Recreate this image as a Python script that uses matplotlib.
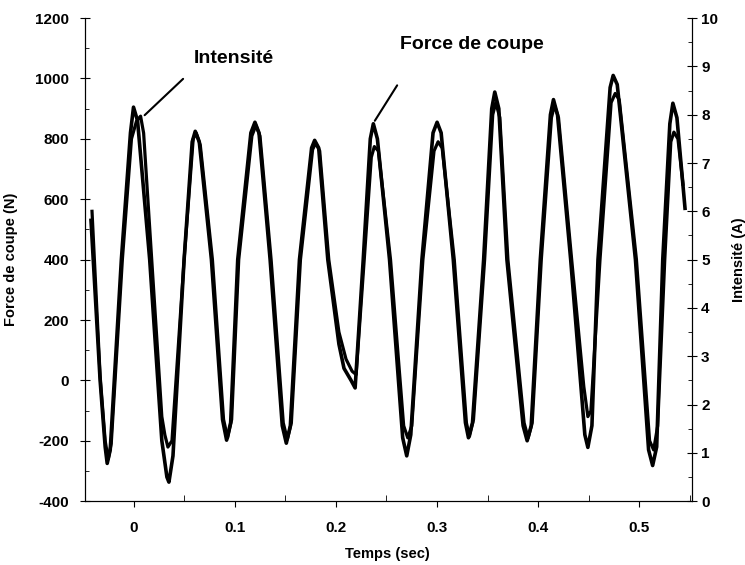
import matplotlib
matplotlib.use("Agg")
import matplotlib.pyplot as plt
from matplotlib.ticker import MultipleLocator

plt.rcParams['font.family'] = ['Liberation Sans', 'DejaVu Sans']
plt.rcParams['font.weight'] = 'bold'
plt.rcParams['axes.unicode_minus'] = False

# Force de coupe (N)
t_force = [-0.042, -0.033, -0.028, -0.026, -0.023, -0.012, -0.003, 0.000, 0.004, 0.016,
           0.028, 0.033, 0.035, 0.039, 0.050, 0.058, 0.061, 0.065, 0.077, 0.088,
           0.092, 0.096, 0.103, 0.116, 0.120, 0.124, 0.135, 0.147, 0.151, 0.155,
           0.164, 0.176, 0.179, 0.183, 0.192, 0.203, 0.208, 0.215, 0.219, 0.227,
           0.234, 0.237, 0.241, 0.253, 0.266, 0.270, 0.274, 0.285, 0.296, 0.300,
           0.304, 0.316, 0.328, 0.331, 0.335, 0.346, 0.354, 0.357, 0.361, 0.369,
           0.385, 0.389, 0.393, 0.402, 0.412, 0.415, 0.419, 0.432, 0.446, 0.449,
           0.453, 0.459, 0.471, 0.474, 0.478, 0.496, 0.509, 0.513, 0.517, 0.523,
           0.530, 0.533, 0.537, 0.545]
force = [530, 0, -220, -275, -230, 400, 820, 905, 860, 400,
         -200, -320, -337, -250, 400, 790, 825, 790, 400, -130,
         -198, -140, 400, 820, 855, 820, 400, -150, -208, -150,
         400, 770, 795, 770, 400, 120, 40, 0, -25, 400,
         800, 850, 800, 400, -190, -250, -180, 400, 820, 855,
         820, 400, -140, -190, -140, 400, 900, 955, 900, 400,
         -150, -200, -150, 400, 880, 930, 880, 400, -180, -222,
         -150, 400, 970, 1010, 980, 400, -230, -282, -220, 400,
         850, 918, 870, 570]

# Intensité (A)
t_int = [-0.041, -0.033, -0.028, -0.025, -0.022, -0.011, -0.002, 0.003, 0.007, 0.010,
         0.018, 0.028, 0.031, 0.034, 0.038, 0.050, 0.059, 0.062, 0.066, 0.078,
         0.089, 0.093, 0.097, 0.104, 0.117, 0.121, 0.125, 0.136, 0.148, 0.152,
         0.156, 0.165, 0.177, 0.180, 0.184, 0.193, 0.203, 0.210, 0.216, 0.220,
         0.228, 0.235, 0.238, 0.242, 0.254, 0.267, 0.271, 0.275, 0.286, 0.297,
         0.301, 0.305, 0.317, 0.329, 0.332, 0.336, 0.347, 0.355, 0.358, 0.362,
         0.370, 0.386, 0.390, 0.394, 0.403, 0.413, 0.416, 0.420, 0.433, 0.445,
         0.449, 0.452, 0.461, 0.472, 0.476, 0.480, 0.497, 0.510, 0.514, 0.518,
         0.525, 0.531, 0.534, 0.538, 0.543]
intensite = [6.0, 2.6, 1.25, 0.87, 1.19, 5.0, 7.5, 7.87, 7.97, 7.62,
             5.0, 1.75, 1.37, 1.12, 1.25, 5.0, 7.5, 7.62, 7.37, 5.0,
             1.69, 1.31, 1.69, 5.0, 7.56, 7.78, 7.56, 5.0, 1.62, 1.28,
             1.62, 5.0, 7.28, 7.41, 7.25, 5.0, 3.5, 2.94, 2.69, 2.62,
             5.0, 7.12, 7.34, 7.25, 5.0, 1.56, 1.31, 1.56, 5.0, 7.25,
             7.44, 7.31, 5.0, 1.62, 1.34, 1.69, 5.0, 8.0, 8.25, 7.94,
             5.0, 1.62, 1.31, 1.62, 5.0, 7.94, 8.19, 7.94, 5.0, 2.37,
             1.75, 1.87, 5.0, 8.25, 8.44, 8.31, 5.0, 1.25, 1.06, 1.56,
             5.0, 7.44, 7.64, 7.5, 6.56]

fig = plt.figure(figsize=(7.45, 5.65), dpi=100)
ax = fig.add_axes([0.114, 0.113, 0.815, 0.855])
ax2 = ax.twinx()

ax.plot(t_force, force, color='black', lw=2.6)
ax2.plot(t_int, intensite, color='black', lw=2.3)

ax.set_xlim(-0.048, 0.552)
ax.set_ylim(-400, 1200)
ax2.set_ylim(0, 10)

ax.spines['top'].set_visible(False)
ax2.spines['top'].set_visible(False)

ax.xaxis.set_major_locator(MultipleLocator(0.1))
ax.xaxis.set_minor_locator(MultipleLocator(0.05))
ax.yaxis.set_major_locator(MultipleLocator(200))
ax.yaxis.set_minor_locator(MultipleLocator(100))
ax2.yaxis.set_major_locator(MultipleLocator(1))
ax2.yaxis.set_minor_locator(MultipleLocator(0.5))
ax.set_xticks([0, 0.1, 0.2, 0.3, 0.4, 0.5])
ax.set_xticklabels(['0', '0.1', '0.2', '0.3', '0.4', '0.5'])

ax.tick_params(axis='x', which='major', direction='out', length=4, pad=10, labelsize=11)
ax.tick_params(axis='x', which='minor', direction='in', length=4)
ax.tick_params(axis='y', which='major', direction='inout', length=7, pad=8, labelsize=11)
ax.tick_params(axis='y', which='minor', direction='in', length=3)
ax2.tick_params(axis='y', which='major', direction='inout', length=7, pad=3, labelsize=11)
ax2.tick_params(axis='y', which='minor', direction='in', length=3)

ax.set_xlabel('Temps (sec)', fontsize=10.5, fontweight='bold')
ax.set_ylabel('Force de coupe (N)', fontsize=10.5, fontweight='bold')
ax2.set_ylabel('Intensité (A)', fontsize=10.5, fontweight='bold')
ax.xaxis.set_label_coords(0.4975, -0.095)
ax.yaxis.set_label_coords(-0.11, 0.5)
ax2.yaxis.set_label_coords(1.066, 0.5)

# étiquettes et traits de rappel
ax.text(0.099, 1067, 'Intensité', fontsize=14, fontweight='bold', ha='center', va='center')
ax.text(0.334, 1114, 'Force de coupe', fontsize=14, fontweight='bold', ha='center', va='center')
ax.annotate('', xy=(0.009, 872), xytext=(0.051, 1005),
            arrowprops=dict(arrowstyle='-', color='black', lw=1.5))
ax.annotate('', xy=(0.237, 852), xytext=(0.262, 985),
            arrowprops=dict(arrowstyle='-', color='black', lw=1.5))

fig.savefig('out.png', dpi=100)
